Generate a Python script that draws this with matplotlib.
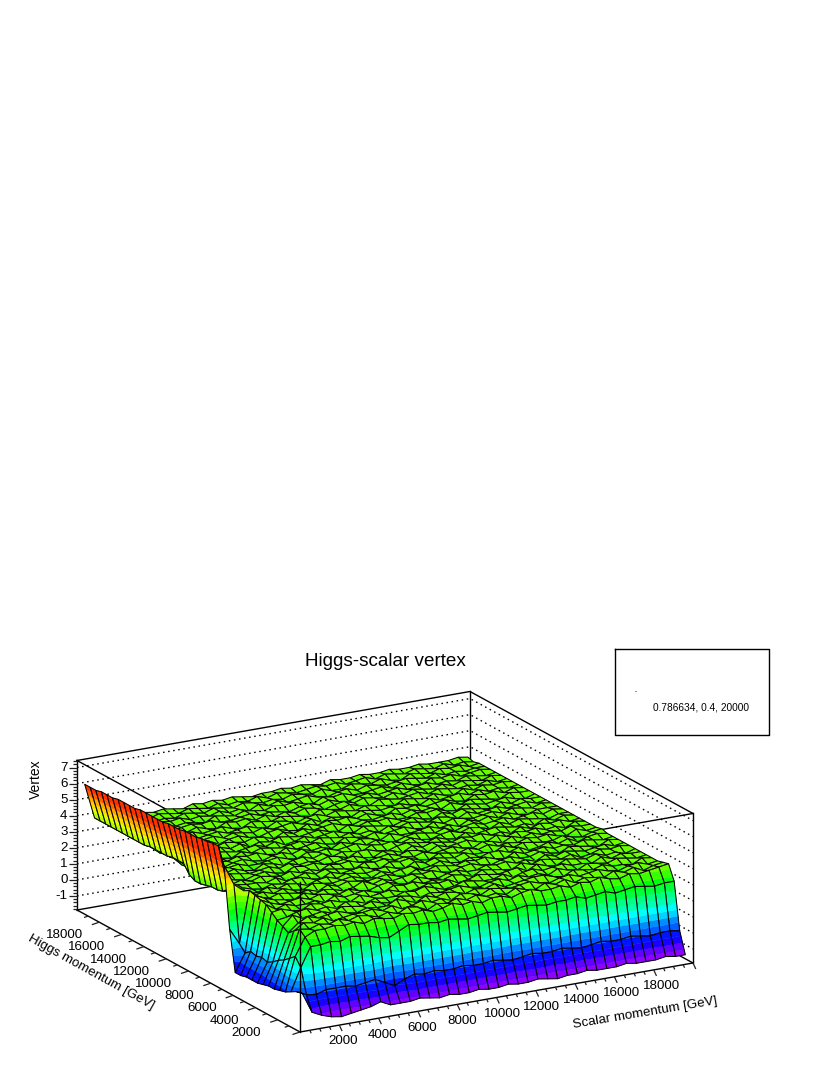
import colorsys
import numpy as np
import matplotlib
matplotlib.use('Agg')
import matplotlib.pyplot as plt
from matplotlib.collections import PolyCollection

plt.rcParams['font.family'] = ['Liberation Sans', 'DejaVu Sans']

title = 'Higgs-scalar vertex'
scalar_label = 'Scalar momentum [GeV]'
higgs_label = 'Higgs momentum [GeV]'
vertex_label = 'Vertex'
box_text = '0.786634, 0.4, 20000'

scalar_ticks = [2000, 4000, 6000, 8000, 10000, 12000, 14000, 16000, 18000]
higgs_ticks = [2000, 4000, 6000, 8000, 10000, 12000, 14000, 16000, 18000]
vertex_ticks = [-1, 0, 1, 2, 3, 4, 5, 6, 7]

# bin centres, GeV
scalar_bins = [250 + 500 * i for i in range(40)]
higgs_bins = [250 + 500 * i for i in range(40)]

# vertex values x10, one row per Higgs bin (first row = lowest momentum)
vertex_x10 = [
[4,-9,-12,-14,-15,-14,-13,-12,-10,-13,-13,-13,-12,-13,-14,-13,-14,-14,-13,-14,-14,-13,-14,-14,-13,-14,-15,-14,-14,-13,-14,-14,-14,-13,-14,-14,-14,-13,-14,-14],
[3,0,-1,1,1,1,0,1,2,-1,-4,-1,1,0,1,0,0,1,0,0,1,0,-1,0,1,0,0,1,0,-1,0,1,0,0,1,0,-1,0,0,-1],
[1,15,27,27,28,27,29,28,27,25,24,27,30,29,29,28,29,28,27,28,29,28,27,28,29,28,27,28,28,29,27,28,29,27,28,29,28,27,28,28],
[-1,20,31,34,34,35,34,35,33,35,34,33,35,34,35,33,34,36,34,35,33,35,35,33,35,36,34,34,35,33,35,34,36,34,33,35,34,35,36,37],
[-2,17,34,33,35,34,36,34,36,35,33,35,33,36,35,32,35,34,36,34,36,34,35,33,36,34,33,36,34,36,33,35,34,33,36,34,36,33,35,36],
[-3,14,31,35,34,36,33,34,35,35,36,34,36,33,34,36,34,35,33,36,35,33,36,35,34,35,36,34,33,35,36,34,35,36,34,33,35,36,34,35],
[-3,12,28,33,36,34,35,36,34,33,35,34,34,37,35,33,36,34,36,35,33,35,34,36,33,34,35,36,36,34,33,36,35,34,36,34,34,33,36,35],
[-4,9,30,36,33,34,35,33,36,35,34,36,34,33,36,35,33,35,34,35,36,34,33,35,36,34,36,34,35,33,36,34,33,36,35,34,36,35,34,35],
[-5,7,32,33,35,36,34,35,33,36,35,33,35,34,34,36,35,37,35,33,34,36,35,34,34,36,33,35,36,34,35,36,34,34,33,36,34,36,35,35],
[-5,8,35,36,34,33,36,35,36,34,33,36,34,35,36,34,33,34,36,35,36,33,34,36,35,34,35,36,33,36,34,33,36,35,34,36,34,35,33,35],
[-5,7,38,34,36,34,34,35,33,36,34,35,36,34,33,36,35,36,34,35,34,36,35,33,36,35,34,33,36,34,36,35,34,36,33,34,36,35,36,35],
[-6,8,39,36,34,35,36,34,36,35,34,36,34,33,35,36,34,33,36,34,33,35,36,34,34,36,35,36,34,35,33,36,34,36,35,34,35,36,34,35],
[-6,5,40,37,35,34,33,36,34,36,35,33,34,37,34,36,34,35,36,35,36,34,33,35,36,34,33,35,36,34,34,36,34,33,36,35,34,33,36,35],
[19,9,41,36,34,36,35,34,35,33,36,34,36,35,34,35,36,34,33,36,34,36,35,34,36,35,36,34,33,36,34,35,36,34,35,34,36,35,34,35],
[57,44,39,35,36,34,36,34,33,36,35,34,35,36,34,33,36,34,35,36,33,34,36,34,33,35,34,36,36,34,36,33,34,36,34,36,33,35,36,35],
[67,39,37,34,34,36,34,36,35,33,35,36,34,36,35,34,35,36,34,33,36,34,36,35,34,36,34,34,33,36,34,36,35,34,34,36,34,33,35,36],
[67,36,35,36,34,33,35,34,36,36,34,33,36,34,35,36,34,33,36,35,36,34,33,36,35,34,36,34,36,34,35,34,36,35,36,34,33,36,34,35],
[66,35,34,36,35,35,34,36,33,34,36,34,36,35,34,33,36,35,36,34,35,34,36,34,35,36,34,33,36,35,33,36,34,36,34,35,34,36,35,35],
[66,35,36,34,36,34,36,35,34,36,34,35,33,36,35,36,34,34,35,36,34,36,35,33,36,34,35,36,34,33,36,34,36,35,36,34,35,33,36,35],
[65,34,34,36,34,33,35,36,34,33,36,35,36,34,34,35,36,34,33,36,35,33,36,34,36,35,34,36,35,36,34,35,33,36,34,36,35,36,34,35],
[65,33,36,34,36,35,34,35,36,34,36,34,35,34,36,35,33,36,36,34,33,35,36,35,34,36,34,33,36,34,35,36,35,34,35,33,36,34,36,35],
[65,33,34,35,34,36,34,33,36,35,33,35,36,34,36,33,35,34,33,36,35,36,34,36,34,33,35,36,34,36,35,33,36,34,36,35,34,33,35,35],
[64,35,36,34,36,35,36,34,34,35,36,34,33,36,35,36,34,35,36,34,36,34,33,35,36,35,34,36,33,35,36,34,35,36,34,35,36,34,36,35],
[64,40,37,35,34,33,35,36,34,33,35,36,34,36,34,35,33,36,34,36,35,33,36,34,34,35,36,34,35,33,36,34,36,34,36,34,33,35,35,35],
[64,40,35,34,36,35,34,36,35,36,34,33,36,34,35,36,34,33,36,35,34,36,34,35,36,34,33,36,34,36,35,34,35,36,34,36,35,34,36,35],
[63,40,34,36,34,36,34,33,36,34,36,35,34,35,36,34,36,35,34,36,34,35,33,36,34,36,35,34,36,35,33,36,34,35,36,34,35,36,34,35],
[63,39,36,35,35,34,36,35,34,35,36,34,36,33,34,36,34,35,36,34,33,36,35,34,33,35,36,34,33,36,34,36,35,34,33,36,34,36,35,35],
[63,39,35,36,34,33,35,36,34,36,33,35,34,36,35,34,35,36,34,33,36,34,36,35,36,34,34,36,35,36,34,33,36,35,34,35,36,34,33,35],
[63,39,36,34,36,35,34,34,36,35,34,36,35,33,36,34,36,34,35,36,34,33,35,34,35,36,34,36,34,35,33,36,34,36,35,34,33,36,35,35],
[63,39,34,35,34,36,34,36,33,35,36,34,33,35,36,34,33,36,34,36,35,36,34,36,34,33,36,35,36,34,35,36,34,33,36,35,36,34,36,35],
[62,38,36,34,36,35,33,35,36,34,36,35,34,36,34,35,36,34,36,33,35,34,33,36,35,34,35,36,34,33,36,34,35,36,34,36,34,35,34,35],
[62,38,35,36,34,33,36,34,35,36,34,35,36,34,33,36,35,33,35,36,34,36,35,34,36,35,34,33,36,35,34,36,34,33,36,34,36,35,36,35],
[62,38,36,34,36,35,34,36,34,35,36,34,33,36,35,34,36,35,34,33,36,35,34,36,34,33,36,35,34,35,36,34,36,35,34,35,34,36,34,35],
[62,38,34,36,35,34,36,34,36,34,33,36,35,36,34,36,34,36,34,36,35,33,35,36,34,36,35,34,36,34,36,35,34,36,34,36,35,34,36,35],
[61,38,36,35,36,34,33,35,36,35,36,34,34,35,36,34,35,34,33,35,36,34,36,34,33,35,36,34,35,36,34,35,36,34,35,34,36,35,34,35],
[61,38,35,36,34,36,35,34,35,34,33,36,35,34,36,35,34,36,35,36,34,33,36,35,36,34,34,35,36,34,36,34,33,36,35,36,34,35,36,35],
[61,38,36,34,35,34,36,35,36,34,35,34,36,34,35,33,36,34,36,34,35,36,34,33,35,36,34,36,35,34,35,36,35,34,36,34,35,34,35,35],
[60,38,35,36,34,36,34,35,34,36,35,34,36,35,34,36,35,34,35,34,36,35,34,36,34,34,36,35,34,36,34,33,36,35,34,36,35,36,34,35],
[60,38,36,35,36,35,34,36,35,34,36,35,34,36,34,35,34,36,34,36,35,34,35,36,35,36,34,35,36,34,36,35,34,36,35,34,36,34,35,34],
[60,38,35,36,35,35,36,35,36,35,34,36,35,36,35,36,35,34,35,35,36,35,36,35,34,36,35,35,36,35,35,36,35,35,36,35,35,35,36,35],
]

vertex = np.array(vertex_x10) / 10.0

# axis ranges of the drawn box
s_min, s_max = 0.0, 20000.0
h_min, h_max = 0.0, 20000.0
z_min, z_max = -1.875, 7.44

# projection of the box onto the page (orthographic, in page pixels)
front_x, front_y = 300.0, 1032.0
s_dx, s_dy = 393.0, -69.0
h_dx, h_dy = -223.0, -122.0
z_dy = -16.05


def project(s, h, z):
    a = (np.asarray(s, dtype=float) - s_min) / (s_max - s_min)
    b = (np.asarray(h, dtype=float) - h_min) / (h_max - h_min)
    c = np.asarray(z, dtype=float) - z_min
    return front_x + a * s_dx + b * h_dx, front_y + a * s_dy + b * h_dy + c * z_dy


def clip(poly, level, keep_above):
    # cut a polygon (x, y, z) at a z level
    out = []
    for i in range(len(poly)):
        p = poly[i]
        q = poly[(i + 1) % len(poly)]
        p_in = p[2] >= level if keep_above else p[2] <= level
        q_in = q[2] >= level if keep_above else q[2] <= level
        if p_in:
            out.append(p)
        if p_in != q_in:
            t = (level - p[2]) / (q[2] - p[2])
            out.append((p[0] + t * (q[0] - p[0]), p[1] + t * (q[1] - p[1]), level))
    return out


# ROOT style rainbow, 20 contour bands
n_levels = 20
low = vertex.min()
color_top = 6.05
levels = np.linspace(low, color_top, n_levels + 1)
levels[-1] = 99.0
band_colors = []
for k in range(n_levels):
    idx = int(k * 50 / n_levels)
    hue = 280.0 - (idx + 1) * 5.6
    band_colors.append(colorsys.hls_to_rgb(hue / 360.0, 0.5, 1.0) + (1.0,))

fig = plt.figure(figsize=(8.3, 10.75), dpi=100)
ax = fig.add_axes([0, 0, 1, 1])
ax.set_xlim(0, 830)
ax.set_ylim(1075, 0)
ax.axis('off')

axis_kw = dict(color='black', lw=1.0, solid_capstyle='projecting')
tick_kw = dict(color='#222222', lw=0.9, solid_capstyle='butt')
dot_kw = dict(color='black', lw=1.0, linestyle=(0, (1.1, 2.6)))


def line3d(s, h, z, **kw):
    x, y = project(s, h, z)
    ax.plot(x, y, **kw)


# back box and dotted grid
line3d([s_min, s_max, s_max], [h_max, h_max, h_min], [z_min, z_min, z_min], zorder=1, **axis_kw)
line3d([s_min, s_max, s_max], [h_max, h_max, h_min], [z_max, z_max, z_max], zorder=1, **axis_kw)
line3d([s_max, s_max], [h_max, h_max], [z_min, z_max], zorder=1, **axis_kw)
line3d([s_max, s_max], [h_min, h_min], [z_min, z_max], zorder=1, **axis_kw)
line3d([s_min, s_min], [h_max, h_max], [z_min, z_max], zorder=1, **axis_kw)
for v in vertex_ticks:
    line3d([s_min, s_max, s_max], [h_max, h_max, h_min], [v, v, v], zorder=1, **dot_kw)
# top front edges stay behind the surface
line3d([s_min, s_min, s_max], [h_max, h_min, h_min], [z_max, z_max, z_max], zorder=1, **axis_kw)

# surface, far corner first
polys = []
faces = []
edges = []
widths = []
for i in range(len(higgs_bins) - 2, -1, -1):
    for j in range(len(scalar_bins) - 2, -1, -1):
        corners = [(j, i), (j + 1, i), (j + 1, i + 1), (j, i + 1)]
        quad = []
        for c_j, c_i in corners:
            x, y = project(scalar_bins[c_j], higgs_bins[c_i], vertex[c_i, c_j])
            quad.append((float(x), float(y), float(vertex[c_i, c_j])))
        zs = [p[2] for p in quad]
        for k in range(n_levels):
            if levels[k + 1] < min(zs) or levels[k] > max(zs):
                continue
            part = clip(clip(quad, levels[k], True), levels[k + 1], False)
            if len(part) < 3:
                continue
            polys.append([(p[0], p[1]) for p in part])
            faces.append(band_colors[k])
            edges.append(band_colors[k])
            widths.append(0.3)
        polys.append([(p[0], p[1]) for p in quad])
        faces.append((0, 0, 0, 0))
        edges.append((0, 0, 0, 1))
        widths.append(0.75)

ax.add_collection(PolyCollection(polys, facecolors=faces, edgecolors=edges,
                                 linewidths=widths, zorder=2))

# front box lines
line3d([s_min, s_min], [h_min, h_min], [z_min, z_max], zorder=3, **axis_kw)
line3d([s_min, s_min, s_max], [h_max, h_min, h_min], [z_min, z_min, z_min], zorder=3, **axis_kw)

# ticks: scalar axis every 500, Higgs axis every 1000, vertex axis every 0.2
for t in np.arange(500, 20000.1, 500):
    d = 1.0 if int(t) % 2000 == 0 else 0.5
    x, y = project(t, h_min, z_min)
    ax.plot([x, x + 2.8 * d], [y, y + 6.0 * d], zorder=3, **tick_kw)
for t in np.arange(0, 20000, 1000):
    d = 1.0 if int(t) % 2000 == 0 else 0.55
    x, y = project(s_min, t, z_min)
    ax.plot([x, x - 7.5 * d], [y, y + 2.5 * d], zorder=3, **tick_kw)
for t in np.arange(-1.8, 7.41, 0.2):
    x, y = project(s_min, h_max, t)
    major = abs(t - round(t)) < 0.01
    ax.plot([x, x - (8.5 if major else 4.5)], [y, y], zorder=3, **tick_kw)

tick_size = 9.6
for t in scalar_ticks:
    x, y = project(t, h_min, z_min)
    ax.text(x + 3 + t / 4000.0, y + 16.3, str(t), ha='center', va='center', fontsize=tick_size)
for t in higgs_ticks:
    x, y = project(s_min, t, z_min)
    ax.text(x - 16.5, y + 13, str(t), ha='right', va='center', fontsize=tick_size)
for t in vertex_ticks:
    x, y = project(s_min, h_max, t)
    ax.text(x - 9.5, y + 0.5, str(t), ha='right', va='center', fontsize=tick_size)

ax.text(645, 1013, scalar_label, ha='center', va='center', rotation=9.5,
        rotation_mode='anchor', fontsize=tick_size)
ax.text(91.5, 972.5, higgs_label, ha='center', va='center', rotation=-29,
        rotation_mode='anchor', fontsize=tick_size)
ax.text(36, 779, vertex_label, ha='center', va='center', rotation=90, fontsize=10)

ax.text(385.5, 662, title, ha='center', va='center', fontsize=13.6)

# stats style box
ax.plot([615, 769, 769, 615, 615], [649, 649, 735, 735, 649], color='black', lw=1.0)
ax.plot([635, 635.6], [691, 691], color='black', lw=0.4)
ax.text(701, 707, box_text, ha='center', va='center', fontsize=7.25)

fig.savefig('out.png', dpi=100)
